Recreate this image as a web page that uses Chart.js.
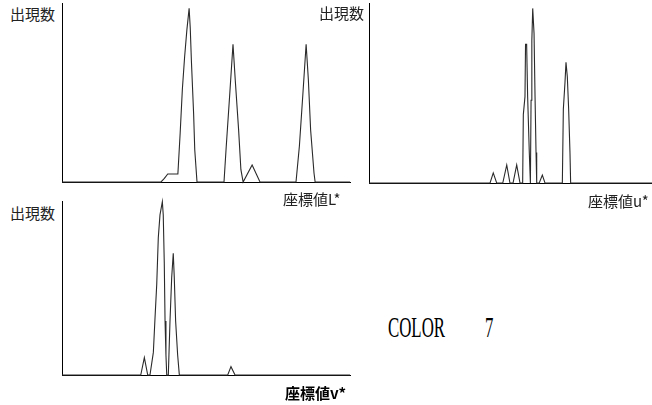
<!DOCTYPE html>
<html>
<head>
<meta charset="utf-8">
<script src="https://cdn.jsdelivr.net/npm/chart.js@4/dist/chart.umd.min.js"></script>
<style>
  html, body { margin: 0; padding: 0; background: #fff; }
  body { width: 652px; height: 405px; position: relative; overflow: hidden; }
  canvas { position: absolute; }
  .lbl { position: absolute; font-family: "Noto Sans CJK JP", sans-serif; font-size: 15px; line-height: 15px; color: #222; white-space: nowrap; }
  .bold { font-weight: bold; color: #000; }
  .color { position: absolute; font-family: "Liberation Serif", serif; font-size: 29px; line-height: 29px; color: #000; transform-origin: 0 0; transform: scaleX(0.58); white-space: nowrap; }
</style>
</head>
<body>
<canvas id="chart-l" width="300" height="190" style="left:56px;top:0px"></canvas>
<canvas id="chart-u" width="289" height="190" style="left:363px;top:0px"></canvas>
<canvas id="chart-v" width="300" height="190" style="left:56px;top:195px"></canvas>

<div class="lbl" style="left:10px;top:6px">出現数</div>
<div class="lbl" style="left:319px;top:5px">出現数</div>
<div class="lbl" style="left:10px;top:205px">出現数</div>
<div class="lbl" style="left:283px;top:191px">座標値L*</div>
<div class="lbl" style="left:588px;top:193px">座標値u*</div>
<div class="lbl bold" style="left:285px;top:385px">座標値v*</div>
<div class="color" style="left:388px;top:313px">COLOR</div>
<div class="color" style="left:485px;top:313px">7</div>

<script>
// coordinate value (0-256) and occurrence count (0-100) for each histogram
const lX = [0, 88, 91, 94, 103, 105, 107, 109, 111, 113, 114, 115, 117, 118, 120,
  144, 146, 149, 152, 154, 157, 159, 161, 169, 176,
  208, 211, 214, 217, 219, 221, 224, 225, 256];
const lY = [0, 0, 2, 4.5, 4.5, 27, 52, 70, 85, 97, 86, 68, 38, 18, 0,
  0, 20, 48, 77, 57, 29, 7, 0, 9.5, 0,
  0, 20, 48, 77, 57, 29, 5, 0, 0];

const uX = [0, 109.5, 112.4, 115.5, 121, 124.6, 127.5, 130.3, 133.6, 136.6,
  139, 139.6, 141.1, 141.6, 142.6, 143.5, 145, 146,
  146.6, 147.3, 148.1, 149.3, 150.2, 151.1, 151.7,
  154, 156.8, 159.2,
  174.9, 175.8, 177.3, 178.2, 179.4, 180.6, 181.8, 182.4, 256];
const uY = [0, 0, 5.6, 0, 0, 10, 0, 0, 10, 0,
  0, 38, 48, 77, 77, 48, 17, 0,
  46, 79, 97, 83, 48, 17, 0,
  0, 4.4, 0,
  0, 41, 56, 67, 59, 41, 17, 0, 0];

const vX = [0, 70, 73.2, 76.2,
  78.2, 81.2, 82.7, 84.2, 85.6, 87.1, 89.2, 90, 90.9, 91.6, 92.4, 93.1,
  94.5, 96, 97.5, 98.9, 99.8, 101, 102.8, 104.3,
  147.3, 150.2, 153.8, 256];
const vY = [0, 0, 10, 0,
  0, 13, 33, 52, 79, 92, 99.6, 92, 65, 31, 11.5, 0,
  0, 31, 56, 70, 56, 31, 11.5, 0,
  0, 4.8, 0, 0];

function draw(id, xs, ys, pad) {
  const pts = xs.map((x, i) => ({ x, y: ys[i] }));
  const axis = (min, max) => ({
    type: "linear",
    min, max,
    ticks: { display: false },
    grid: { display: false, drawTicks: false, tickLength: 0 },
    border: { display: true, color: "#000", width: 1 },
  });
  new Chart(document.getElementById(id).getContext("2d"), {
    type: "line",
    data: {
      datasets: [{
        data: pts,
        borderColor: "#2a2a2a",
        borderWidth: 1.1,
        pointRadius: 0,
        tension: 0,
        fill: false,
        clip: false,
      }],
    },
    options: {
      responsive: false,
      animation: false,
      layout: { padding: pad },
      scales: { x: axis(0, 256), y: axis(0, 100) },
      plugins: { legend: { display: false }, tooltip: { enabled: false } },
    },
  });
}

draw("chart-l", lX, lY, { left: 6, top: 3, right: 6, bottom: 8 });
draw("chart-u", uX, uY, { left: 6, top: 3, right: 0, bottom: 7 });
draw("chart-v", vX, vY, { left: 6, top: 6, right: 6, bottom: 10 });
</script>
</body>
</html>
